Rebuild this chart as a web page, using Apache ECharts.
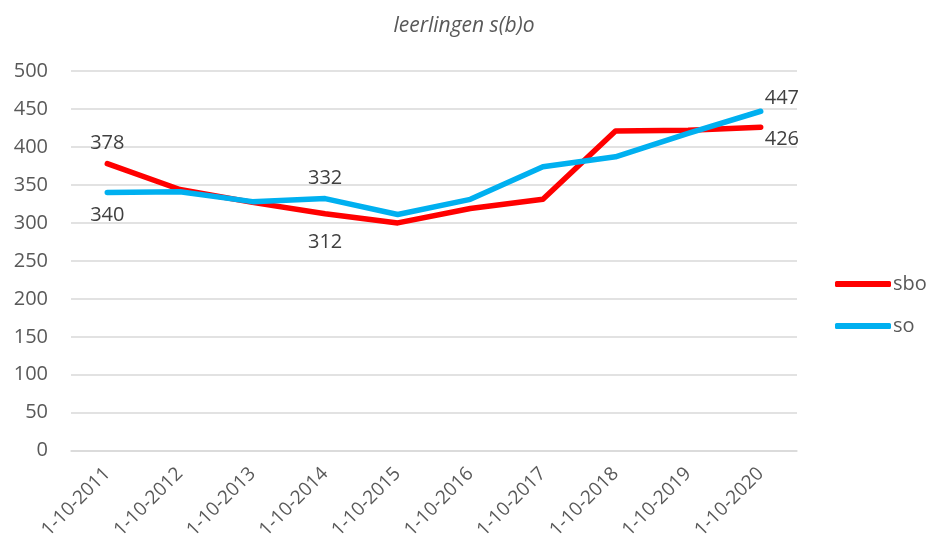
<!DOCTYPE html>
<html>
<head>
<meta charset="utf-8">
<script src="https://cdn.jsdelivr.net/npm/echarts@6/dist/echarts.min.js"></script>
<style>
  html, body { margin: 0; padding: 0; background: #fff; }
  #chart { width: 928px; height: 542px; }
</style>
</head>
<body>
<div id="chart"></div>
<script>
// peildata en leerlingaantallen
const categories = ['1-10-2011', '1-10-2012', '1-10-2013', '1-10-2014', '1-10-2015',
  '1-10-2016', '1-10-2017', '1-10-2018', '1-10-2019', '1-10-2020']
const sbo = [378, 344, 327, 312, 300, 319, 331, 421, 422, 426]
const so = [340, 341, 328, 332, 311, 331, 374, 387, 418, 447]

// welke punten een label krijgen
const sboLabels = { 0: 'top', 3: 'bottomFar', 9: 'rightDown' }
const soLabels = { 0: 'bottom', 3: 'top', 9: 'rightUp' }

const labelFor = (pos) => {
  if (!pos) return { show: false }
  if (pos === 'rightUp') return { show: true, position: 'right', distance: 4, offset: [0, -13] }
  if (pos === 'rightDown') return { show: true, position: 'right', distance: 4, offset: [0, 12] }
  if (pos === 'bottomFar') return { show: true, position: 'bottom', distance: 19 }
  if (pos === 'bottom') return { show: true, position: 'bottom', distance: 13 }
  return { show: true, position: pos, distance: 10 }
}

const toData = (values, labels) => values.map((v, i) => ({ value: v, label: labelFor(labels[i]) }))

const font = '"Open Sans", "Noto Sans", sans-serif'

const chart = echarts.init(document.getElementById('chart'))
chart.setOption({
  animation: false,
  title: {
    text: 'leerlingen s(b)o',
    left: 'center',
    top: 11,
    textStyle: { fontFamily: font, fontStyle: 'italic', fontWeight: 'normal', fontSize: 21, color: '#595959' },
  },
  grid: { left: 71, right: 131, top: 71, bottom: 89 },
  legend: {
    orient: 'vertical',
    left: 830,
    top: 269,
    itemGap: 22,
    itemWidth: 56,
    itemHeight: 6,
    icon: 'roundRect',
    textStyle: { fontFamily: font, fontSize: 20, color: '#595959', padding: [0, 0, 0, -3] },
    data: ['sbo', 'so'],
  },
  xAxis: {
    type: 'category',
    data: categories,
    boundaryGap: true,
    axisLine: { lineStyle: { color: '#d9d9d9', width: 1.5 } },
    axisTick: { show: false },
    axisLabel: { rotate: 45, margin: 20, fontFamily: font, fontSize: 19, color: '#595959', interval: 0 },
  },
  yAxis: {
    type: 'value',
    min: 0,
    max: 500,
    interval: 50,
    axisLine: { show: false },
    axisTick: { show: false },
    splitLine: { lineStyle: { color: '#d9d9d9', width: 1.5 } },
    axisLabel: { margin: 23, fontFamily: font, fontSize: 20, color: '#595959' },
  },
  series: [
    {
      name: 'sbo',
      type: 'line',
      data: toData(sbo, sboLabels),
      symbol: 'circle',
      symbolSize: 0,
      showSymbol: true,
      color: '#ff0000',
      lineStyle: { width: 5.5, cap: 'round', join: 'round' },
      label: { fontFamily: font, fontSize: 20, color: '#404040' },
    },
    {
      name: 'so',
      type: 'line',
      data: toData(so, soLabels),
      symbol: 'circle',
      symbolSize: 0,
      showSymbol: true,
      color: '#00b0f0',
      lineStyle: { width: 5.5, cap: 'round', join: 'round' },
      label: { fontFamily: font, fontSize: 20, color: '#404040' },
    },
  ],
})
</script>
</body>
</html>
